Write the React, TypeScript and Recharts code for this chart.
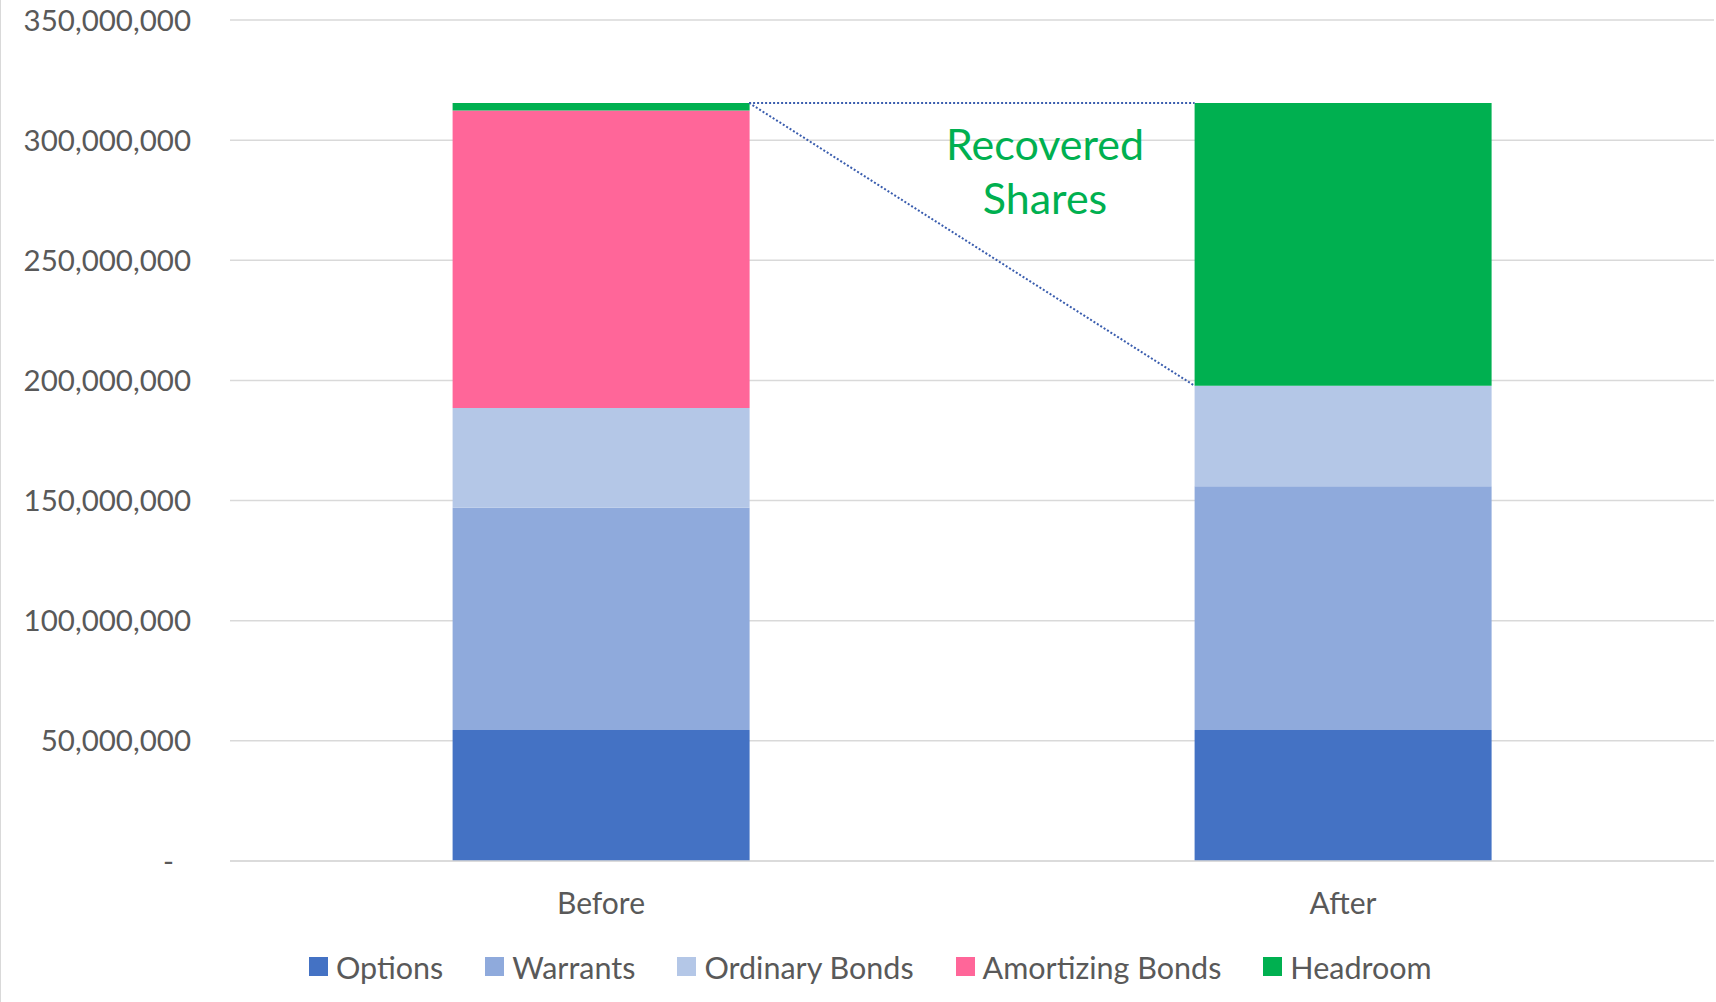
import { Bar, BarChart, CartesianGrid, Customized, Legend, Rectangle, XAxis, YAxis } from "recharts";

const categories = ["Before", "After"];
const options = [54_500_000, 54_500_000];
const warrants = [92_500_000, 101_500_000];
const ordinaryBonds = [41_500_000, 41_800_000];
const amortizingBonds = [123_800_000, 0];
const headroom = [3_200_000, 117_700_000];
const yTicks = [0, 50_000_000, 100_000_000, 150_000_000, 200_000_000, 250_000_000, 300_000_000, 350_000_000];

const TEXT = "#595959";
const GRID = "#D9D9D9";
const FONT = "Lato, sans-serif";
const CONNECTOR = "#3A5DAE";

const series = [
  { key: "options", name: "Options", color: "#4472C4", values: options },
  { key: "warrants", name: "Warrants", color: "#8FAADC", values: warrants },
  { key: "ordinaryBonds", name: "Ordinary Bonds", color: "#B4C7E7", values: ordinaryBonds },
  { key: "amortizingBonds", name: "Amortizing Bonds", color: "#FF6699", values: amortizingBonds },
  { key: "headroom", name: "Headroom", color: "#00B050", values: headroom },
];

const data = categories.map((name, i) => {
  const row: Record<string, string | number> = { name };
  series.forEach((s) => (row[s.key] = s.values[i]));
  return row;
});

// bars fill 40% of each band (barCategoryGap 30%), so the gap between
// the two bars is 1.5 bar widths
const GAP_IN_BAR_WIDTHS = 1.5;

function YTick({ x, y, payload }: any) {
  const v = payload.value as number;
  return (
    <text
      x={x}
      y={y}
      dx={v === 0 ? -17 : 0}
      dy="0.36em"
      textAnchor="end"
      fill={TEXT}
      fontSize={29.5}
      fontFamily={FONT}
    >
      {v === 0 ? "-" : v.toLocaleString("en-US")}
    </text>
  );
}

function XTick({ x, y, payload }: any) {
  return (
    <text x={x} y={y} dy="0.71em" textAnchor="middle" fill={TEXT} fontSize={30} fontFamily={FONT}>
      {payload.value}
    </text>
  );
}

// headroom segment; on the "After" bar it also draws the dotted connector
// from the top-right corner of "Before"
function HeadroomShape(props: any) {
  const { x, y, width, height, fill, index } = props;
  const rect = <Rectangle x={x} y={y} width={width} height={height} fill={fill} />;
  if (index !== 1) return rect;
  const beforeRight = x - width * GAP_IN_BAR_WIDTHS;
  return (
    <g>
      {rect}
      <line x1={beforeRight} y1={y} x2={x} y2={y} stroke={CONNECTOR} strokeWidth={2} strokeDasharray="2 2" />
      <line x1={beforeRight} y1={y} x2={x} y2={y + height} stroke={CONNECTOR} strokeWidth={2} strokeDasharray="2 2" />
    </g>
  );
}

function LegendContent() {
  return (
    <div
      style={{
        display: "flex",
        alignItems: "center",
        height: 71,
        paddingLeft: 309,
        fontFamily: FONT,
        fontSize: 30.5,
        color: TEXT,
      }}
    >
      {series.map((s) => (
        <div key={s.key} style={{ display: "flex", alignItems: "center", marginRight: 42 }}>
          <span style={{ display: "inline-block", width: 19, height: 19, background: s.color, marginRight: 8 }} />
          <span>{s.name}</span>
        </div>
      ))}
    </div>
  );
}

function RecoveredLabel() {
  return (
    <g fill="#00B050" fontFamily={FONT} fontSize={43} textAnchor="middle">
      <text x={1045} y={160}>Recovered</text>
      <text x={1045} y={214}>Shares</text>
    </g>
  );
}

export default function App() {
  return (
    <div
      style={{
        position: "absolute",
        top: 0,
        left: 0,
        width: 1716,
        height: 1002,
        background: "#fff",
        boxShadow: `inset 1px 0 0 ${GRID}`,
      }}
    >
      <BarChart
        width={1716}
        height={1002}
        data={data}
        margin={{ top: 20, right: 2, bottom: 0, left: 0 }}
        barCategoryGap="30%"
      >
        <CartesianGrid vertical={false} stroke={GRID} strokeWidth={1.5} />
        <XAxis
          dataKey="name"
          axisLine={{ stroke: GRID, strokeWidth: 1.5 }}
          tickLine={false}
          tickSize={0}
          tickMargin={32}
          height={70}
          tick={<XTick />}
        />
        <YAxis
          domain={[0, 350_000_000]}
          ticks={yTicks}
          interval={0}
          axisLine={false}
          tickLine={false}
          tickSize={0}
          tickMargin={39}
          width={230}
          tick={<YTick />}
        />
        {series.map((s) => (
          <Bar
            key={s.key}
            dataKey={s.key}
            name={s.name}
            stackId="a"
            fill={s.color}
            isAnimationActive={false}
            shape={s.key === "headroom" ? HeadroomShape : undefined}
          />
        ))}
        <Customized component={RecoveredLabel} />
        <Legend
          verticalAlign="bottom"
          content={<LegendContent />}
          wrapperStyle={{ left: 0, width: 1716, height: 71 }}
        />
      </BarChart>
    </div>
  );
}
